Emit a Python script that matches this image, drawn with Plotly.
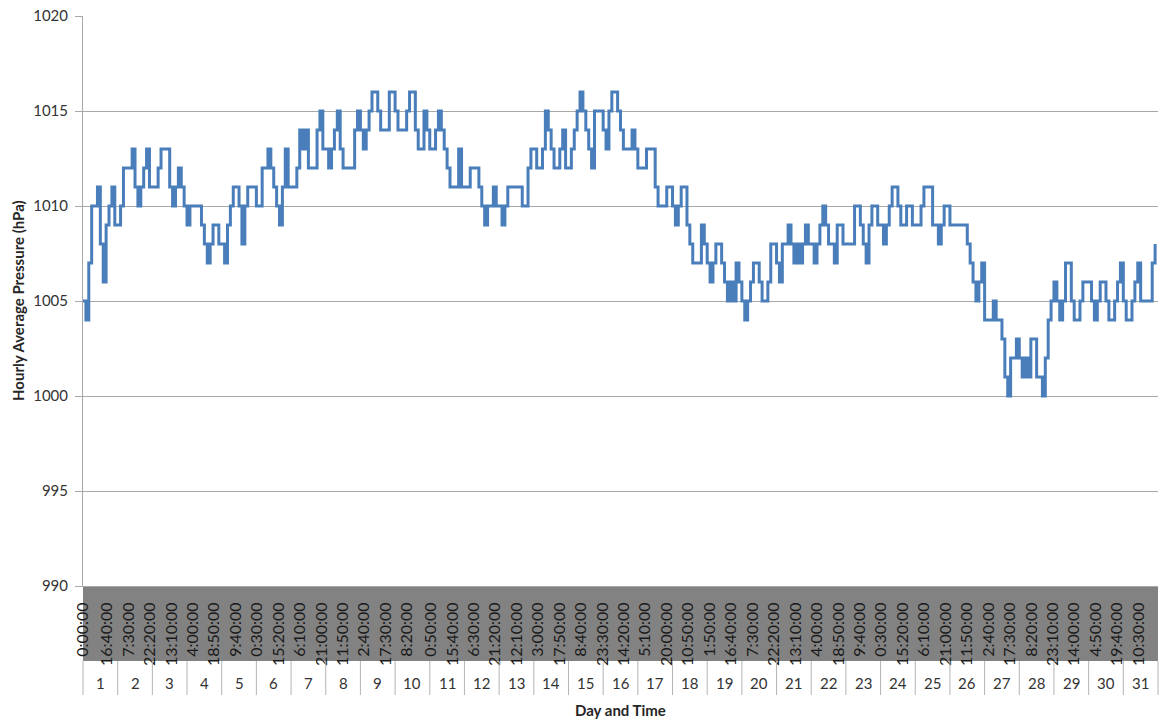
import plotly.graph_objects as go

# ---------------- data ----------------
day_numbers = list(range(1, 32))
hours_per_slot = 2  # one reading every 2 hours (12 per day)

pressure_hpa = [
    1005, 1004, 1007, 1010, 1010, 1011, 1008, 1006, 1009, 1010, 1011, 1009,  # 1
    1009, 1010, 1012, 1012, 1012, 1013, 1011, 1010, 1011, 1012, 1013, 1011,  # 2
    1011, 1011, 1012, 1013, 1013, 1013, 1011, 1010, 1011, 1012, 1011, 1010,  # 3
    1009, 1010, 1010, 1010, 1010, 1009, 1008, 1007, 1008, 1009, 1009, 1008,  # 4
    1008, 1007, 1009, 1010, 1011, 1011, 1010, 1008, 1010, 1011, 1011, 1011,  # 5
    1010, 1010, 1012, 1012, 1013, 1012, 1011, 1010, 1009, 1011, 1013, 1011,  # 6
    1011, 1011, 1012, 1014, 1013, 1014, 1012, 1012, 1012, 1014, 1015, 1013,  # 7
    1013, 1012, 1013, 1014, 1015, 1013, 1012, 1012, 1012, 1012, 1014, 1015,  # 8
    1014, 1013, 1014, 1015, 1016, 1016, 1015, 1014, 1014, 1014, 1016, 1016,  # 9
    1015, 1014, 1014, 1014, 1015, 1016, 1016, 1014, 1013, 1013, 1015, 1014,  # 10
    1013, 1013, 1014, 1015, 1014, 1013, 1012, 1011, 1011, 1011, 1013, 1011,  # 11
    1011, 1011, 1012, 1012, 1012, 1011, 1010, 1009, 1010, 1010, 1011, 1010,  # 12
    1010, 1009, 1010, 1011, 1011, 1011, 1011, 1011, 1010, 1010, 1012, 1013,  # 13
    1013, 1012, 1012, 1013, 1015, 1014, 1013, 1012, 1012, 1013, 1014, 1012,  # 14
    1012, 1013, 1014, 1015, 1016, 1015, 1014, 1013, 1012, 1015, 1015, 1015,  # 15
    1014, 1013, 1015, 1016, 1016, 1015, 1014, 1013, 1013, 1013, 1014, 1013,  # 16
    1012, 1012, 1012, 1013, 1013, 1013, 1011, 1010, 1010, 1010, 1011, 1011,  # 17
    1010, 1009, 1010, 1011, 1011, 1009, 1008, 1007, 1007, 1007, 1009, 1008,  # 18
    1007, 1006, 1007, 1008, 1008, 1007, 1006, 1005, 1006, 1005, 1007, 1006,  # 19
    1005, 1004, 1005, 1006, 1007, 1007, 1006, 1005, 1005, 1006, 1008, 1008,  # 20
    1007, 1006, 1008, 1008, 1009, 1008, 1007, 1008, 1007, 1008, 1009, 1008,  # 21
    1008, 1007, 1008, 1009, 1010, 1009, 1008, 1008, 1007, 1009, 1009, 1008,  # 22
    1008, 1008, 1008, 1010, 1010, 1009, 1008, 1007, 1009, 1010, 1010, 1009,  # 23
    1009, 1008, 1009, 1010, 1011, 1011, 1010, 1009, 1009, 1010, 1010, 1009,  # 24
    1009, 1009, 1010, 1011, 1011, 1011, 1009, 1009, 1008, 1009, 1010, 1010,  # 25
    1009, 1009, 1009, 1009, 1009, 1009, 1008, 1007, 1006, 1005, 1006, 1007,  # 26
    1004, 1004, 1004, 1005, 1004, 1004, 1003, 1001, 1000, 1002, 1002, 1003,  # 27
    1002, 1001, 1002, 1001, 1003, 1003, 1001, 1001, 1000, 1002, 1004, 1005,  # 28
    1006, 1005, 1004, 1005, 1007, 1007, 1005, 1004, 1004, 1005, 1006, 1006,  # 29
    1006, 1005, 1004, 1005, 1006, 1006, 1005, 1004, 1004, 1005, 1006, 1007,  # 30
    1005, 1004, 1004, 1005, 1006, 1007, 1005, 1005, 1005, 1005, 1007, 1008,  # 31
]

time_labels = [
    "0:00:00", "16:40:00", "7:30:00", "22:20:00", "13:10:00", "4:00:00",
    "18:50:00", "9:40:00", "0:30:00", "15:20:00", "6:10:00", "21:00:00",
    "11:50:00", "2:40:00", "17:30:00", "8:20:00", "0:50:00", "15:40:00",
    "6:30:00", "21:20:00", "12:10:00", "3:00:00", "17:50:00", "8:40:00",
    "23:30:00", "14:20:00", "5:10:00", "20:00:00", "10:50:00", "1:50:00",
    "16:40:00", "7:30:00", "22:20:00", "13:10:00", "4:00:00", "18:50:00",
    "9:40:00", "0:30:00", "15:20:00", "6:10:00", "21:00:00", "11:50:00",
    "2:40:00", "17:30:00", "8:20:00", "23:10:00", "14:00:00", "4:50:00",
    "19:40:00", "10:30:00",
]

y_ticks = [990, 995, 1000, 1005, 1010, 1015, 1020]

# ---------------- derived positions ----------------
n_days = len(day_numbers)
total_hours = n_days * 24
hours = [i * hours_per_slot for i in range(len(pressure_hpa))]

label_hours = []
day_offset = 0
prev = -1.0
for lab in time_labels:
    h, m, s = (int(p) for p in lab.split(":"))
    t = h + m / 60 + s / 3600
    if t <= prev:
        day_offset += 1
    prev = t
    label_hours.append(day_offset * 24 + t)

# ---------------- figure ----------------
W, H = 1160, 722
ML, MR, MT, MB = 83, 2, 16, 136
plot_h = H - MT - MB
plot_w = W - ML - MR

def py(pix_y):
    """pixel y (from top) -> paper y"""
    return (H - MB - pix_y) / plot_h

FONT = "Lato, 'Open Sans', sans-serif"
GRID = "#a8a8a8"

fig = go.Figure()
fig.add_trace(go.Scatter(
    x=hours, y=pressure_hpa, mode="lines",
    line=dict(color="#4a7ebb", width=3, shape="hv"),
    hoverinfo="skip", showlegend=False,
))

shapes = []
# dark band holding the time labels
band_bottom = py(661)
shapes.append(dict(type="rect", xref="paper", yref="paper",
                   x0=0, x1=1, y0=band_bottom, y1=0,
                   fillcolor="#828282", line=dict(width=0), layer="below"))
# day separators
row_bottom = py(695)
for d in range(n_days + 1):
    xf = d / n_days
    shapes.append(dict(type="line", xref="paper", yref="paper",
                       x0=xf, x1=xf, y0=band_bottom, y1=row_bottom,
                       line=dict(color="#b4b4b4", width=1)))

annotations = []
for i, d in enumerate(day_numbers):
    annotations.append(dict(
        x=(i + 0.5) / n_days, y=py(683), xref="paper", yref="paper",
        text=str(d), showarrow=False, xanchor="center", yanchor="middle",
        font=dict(family=FONT, size=15, color="#333333")))
annotations.append(dict(
    x=0.5, y=py(710), xref="paper", yref="paper",
    text="<b>Day and Time</b>", showarrow=False,
    xanchor="center", yanchor="middle",
    font=dict(family=FONT, size=15, color="#262626")))
annotations.append(dict(
    x=(18 - ML) / plot_w, y=0.5, xref="paper", yref="paper",
    text="<b>Hourly Average Pressure (hPa)</b>", showarrow=False,
    textangle=-90, xanchor="center", yanchor="middle",
    font=dict(family=FONT, size=15, color="#262626")))

fig.update_layout(
    width=W, height=H,
    margin=dict(l=ML, r=MR, t=MT, b=MB, pad=0),
    paper_bgcolor="white", plot_bgcolor="white",
    shapes=shapes, annotations=annotations,
    showlegend=False,
    xaxis=dict(
        range=[0, total_hours], showgrid=False, zeroline=False,
        showline=True, linecolor=GRID, linewidth=1,
        tickmode="array", tickvals=label_hours, ticktext=time_labels,
        tickangle=-90, ticks="", ticklabelstandoff=9,
        tickfont=dict(family=FONT, size=16, color="#1a1a1a"),
        automargin=False, fixedrange=True,
    ),
    yaxis=dict(
        range=[990, 1020], tickmode="array", tickvals=y_ticks,
        showgrid=True, gridcolor=GRID, gridwidth=1,
        zeroline=False, showline=True, linecolor=GRID, linewidth=1,
        ticks="outside", ticklen=7, tickcolor=GRID, ticklabelstandoff=4,
        tickfont=dict(family=FONT, size=15, color="#333333"),
        automargin=False, fixedrange=True,
    ),
)

fig.write_html(
    "out.html",
    config={"displayModeBar": False, "staticPlot": True},
    post_script="document.body.style.margin='0';document.body.style.overflow='hidden';",
)
